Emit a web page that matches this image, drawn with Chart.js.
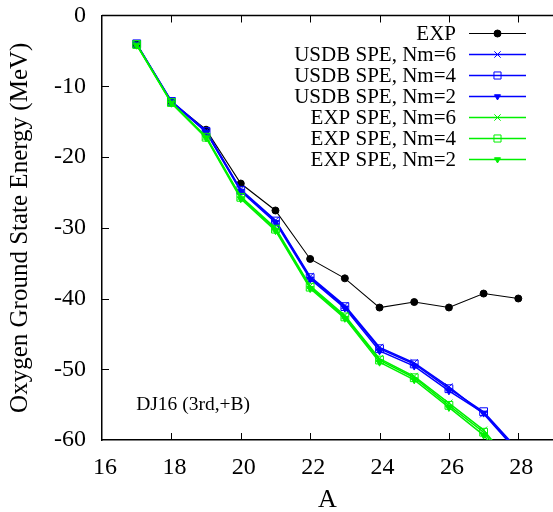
<!DOCTYPE html>
<html>
<head>
<meta charset="utf-8">
<script src="https://cdn.jsdelivr.net/npm/chart.js@4.4.0/dist/chart.umd.min.js"></script>
<style>
  html, body { margin: 0; padding: 0; background: #ffffff; }
  #chart { display: block; }
</style>
</head>
<body>
<canvas id="chart" width="553" height="512"></canvas>
<script>
// Oxygen isotopes: mass number A
const massNumbers = [17, 18, 19, 20, 21, 22, 23, 24, 25, 26, 27, 28];

// Ground state energies (MeV) relative to 16O
const expEnergy    = [-4.14, -12.19, -16.14, -23.75, -27.56, -34.41, -37.15, -41.28, -40.50, -41.27, -39.30, -40.00];
const usdbNm6      = [-4.00, -12.10, -16.30, -24.60, -28.95, -36.90, -41.00, -46.90, -49.10, -52.50, -56.30, -61.80];
const usdbNm4      = [-4.00, -12.15, -16.40, -24.70, -29.05, -37.05, -41.15, -47.10, -49.25, -52.75, -56.00, -61.40];
const usdbNm2      = [-4.05, -12.20, -16.50, -24.85, -29.25, -37.25, -41.35, -47.40, -49.55, -53.05, -56.20, -61.60];
const expSpeNm6    = [-4.10, -12.30, -17.10, -25.60, -30.05, -38.20, -42.40, -48.50, -51.00, -54.80, -58.60, -64.50];
const expSpeNm4    = [-4.10, -12.30, -17.20, -25.70, -30.20, -38.40, -42.60, -48.70, -51.20, -55.10, -58.90, -64.80];
const expSpeNm2    = [-4.20, -12.40, -17.30, -25.90, -30.40, -38.60, -42.80, -49.00, -51.50, -55.40, -59.30, -65.20];

// Axis ticks
const xTicks = [16, 18, 20, 22, 24, 26, 28];
const yTicks = [0, -10, -20, -30, -40, -50, -60];

const seriesNames = [
  'EXP',
  'USDB SPE, Nm=6', 'USDB SPE, Nm=4', 'USDB SPE, Nm=2',
  'EXP SPE, Nm=6', 'EXP SPE, Nm=4', 'EXP SPE, Nm=2'
];
const seriesValues = [expEnergy, usdbNm6, usdbNm4, usdbNm2, expSpeNm6, expSpeNm4, expSpeNm2];

const SERIF = '"Liberation Serif", "DejaVu Serif", serif';
const BLUE = '#0000ff';
const GREEN = '#00f000';

function pts(values) {
  return massNumbers.map((a, i) => ({ x: a, y: values[i] }));
}

function style(color, shape, width, drawOrder) {
  const s = {
    borderColor: color,
    backgroundColor: color,
    pointBorderColor: color,
    borderWidth: width,
    pointBorderWidth: 1,
    order: drawOrder,
    tension: 0
  };
  if (shape === 'dot') {
    Object.assign(s, { pointStyle: 'circle', pointRadius: 3.5, pointBackgroundColor: color });
  } else if (shape === 'x') {
    Object.assign(s, { pointStyle: 'crossRot', pointRadius: 5, pointBackgroundColor: color });
  } else if (shape === 'box') {
    Object.assign(s, { pointStyle: 'rect', pointRadius: 5.5, pointBackgroundColor: 'rgba(0,0,0,0)' });
  } else {
    Object.assign(s, { pointStyle: 'triangle', pointRadius: 4, pointRotation: 180, pointBackgroundColor: color });
  }
  return s;
}

const styles = [
  style('#000000', 'dot', 1.1, 3),
  style(BLUE, 'x', 1.5, 2),
  style(BLUE, 'box', 1.5, 2),
  style(BLUE, 'tri', 1.5, 2),
  style(GREEN, 'x', 1.5, 1),
  style(GREEN, 'box', 1.5, 1),
  style(GREEN, 'tri', 1.5, 1)
];

const datasets = seriesNames.map((name, i) =>
  Object.assign({ label: name, data: pts(seriesValues[i]) }, styles[i]));

// Frame top edge, inward tick marks, legend and model label
const decorations = {
  id: 'decorations',
  afterDraw(chart) {
    const { ctx, chartArea } = chart;
    const xs = chart.scales.x, ys = chart.scales.y;
    const tickLen = 7;
    ctx.save();
    ctx.strokeStyle = '#000';
    ctx.lineWidth = 1.5;
    ctx.beginPath();
    ctx.moveTo(chartArea.left, chartArea.top);
    ctx.lineTo(chartArea.right + 2, chartArea.top);
    ctx.stroke();

    ctx.lineWidth = 1;
    ctx.beginPath();
    xTicks.forEach(v => {
      const px = Math.round(xs.getPixelForValue(v)) + 0.5;
      if (v === xTicks[0]) return;
      ctx.moveTo(px, chartArea.bottom);
      ctx.lineTo(px, chartArea.bottom - tickLen);
      ctx.moveTo(px, chartArea.top);
      ctx.lineTo(px, chartArea.top + tickLen);
    });
    yTicks.forEach(v => {
      const py = Math.round(ys.getPixelForValue(v)) + 0.5;
      if (v === yTicks[0] || v === yTicks[yTicks.length - 1]) return;
      ctx.moveTo(chartArea.left, py);
      ctx.lineTo(chartArea.left + tickLen, py);
    });
    ctx.stroke();

    // legend
    const textRight = 456, lineL = 469, lineR = 526, top = 33.5, step = 21;
    ctx.font = '21px ' + SERIF;
    ctx.textAlign = 'right';
    ctx.textBaseline = 'middle';
    chart.data.datasets.forEach((ds, i) => {
      const y = top + i * step;
      ctx.fillStyle = '#000';
      ctx.fillText(ds.label, textRight, y + 1);
      ctx.strokeStyle = ds.borderColor;
      ctx.lineWidth = ds.borderWidth;
      ctx.beginPath();
      ctx.moveTo(lineL, y);
      ctx.lineTo(lineR, y);
      ctx.stroke();
      const r = ds.pointStyle === 'rect' ? 5 : (ds.pointStyle === 'crossRot' ? 4.5 : 3.5);
      ctx.fillStyle = ds.pointBackgroundColor;
      ctx.strokeStyle = ds.pointBorderColor;
      ctx.lineWidth = 1;
      Chart.helpers.drawPoint(ctx, {
        pointStyle: ds.pointStyle,
        rotation: ds.pointRotation || 0,
        radius: r,
        borderWidth: 1
      }, (lineL + lineR) / 2, y);
    });

    // model label
    ctx.textAlign = 'left';
    ctx.fillStyle = '#000';
    ctx.font = '19.5px ' + SERIF;
    ctx.fillText('DJ16 (3rd,+B)', xs.getPixelForValue(17) - 0.5, ys.getPixelForValue(-55.0));
    ctx.restore();
  }
};

new Chart(document.getElementById('chart'), {
  type: 'line',
  data: { datasets },
  options: {
    responsive: false,
    animation: false,
    devicePixelRatio: 1,
    layout: { autoPadding: false, padding: { top: 15.5, right: 0, bottom: 0, left: 0 } },
    plugins: { legend: { display: false }, tooltip: { enabled: false } },
    scales: {
      x: {
        type: 'linear',
        min: 16,
        max: 29,
        grid: { display: false, drawTicks: false },
        border: { display: true, color: '#000', width: 1.5 },
        afterBuildTicks: s => { s.ticks = xTicks.map(v => ({ value: v })); },
        afterFit: s => { s.height = 72; s.paddingLeft = 0; s.paddingRight = 0; },
        ticks: {
          color: '#000',
          padding: 13,
          labelOffset: 3,
          maxRotation: 0,
          font: { family: SERIF, size: 24 }
        },
        title: {
          display: true,
          text: 'A',
          color: '#000',
          padding: { top: 0, bottom: -4 },
          font: { family: SERIF, size: 26 }
        }
      },
      y: {
        type: 'linear',
        min: -60,
        max: 0,
        grid: { display: false, drawTicks: false },
        border: { display: true, color: '#000', width: 1.5 },
        afterBuildTicks: s => { s.ticks = yTicks.map(v => ({ value: v })); },
        afterFit: s => { s.width = 102; s.paddingTop = 0; s.paddingBottom = 0; },
        ticks: {
          color: '#000',
          padding: 16,
          font: { family: SERIF, size: 24 }
        },
        title: {
          display: true,
          text: 'Oxygen Ground State Energy (MeV)',
          color: '#000',
          padding: { top: 5.5, bottom: 0 },
          font: { family: SERIF, size: 25 }
        }
      }
    }
  },
  plugins: [decorations]
});
</script>
</body>
</html>
